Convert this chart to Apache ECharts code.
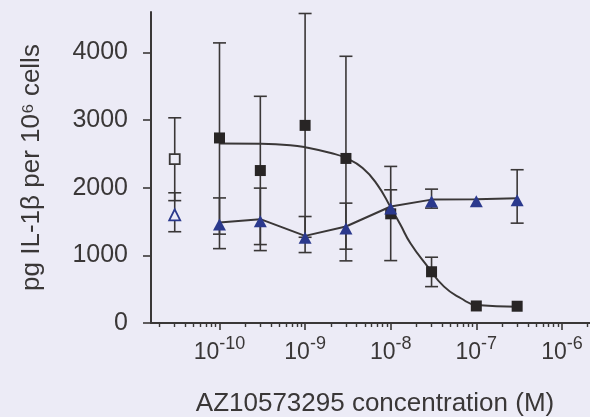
<!DOCTYPE html>
<html>
<head>
<meta charset="utf-8">
<script src="https://cdn.jsdelivr.net/npm/echarts@6/dist/echarts.min.js"></script>
<style>
html,body{margin:0;padding:0;background:#ecebf6;}
#chart{width:590px;height:417px;}
</style>
</head>
<body>
<div id="chart"></div>
<script>
// ---- data ----
const concentrations = [1e-10, 3e-10, 1e-9, 3e-9, 1e-8, 3e-8, 1e-7, 3e-7];
const squareMean   = [2737, 2255, 2923, 2434, 1615, 758, 252, 248];
const squareHigh   = [4143, 3353, 4578, 3945, 2316, 973, null, null];
const squareLow    = [1314, 1160, 1268, 919, 923, 538, null, null];
const triangleMean = [1486, 1536, 1289, 1427, 1723, 1825, 1830, 1847];
const triangleHigh = [1850, 1995, 1575, 1773, 1970, 1980, null, 2267];
const triangleLow  = [1100, 1071, 1042, 1092, null, 1699, null, 1477];
// untreated control shown left of the titration
const controlConc = 3e-11;
const controlSquare   = [2425, 1810, 3035];   // mean, low, high
const controlTriangle = [1630, 1350, 1926];   // mean, low, high
// fitted curve through the filled squares
const curveConc = [1e-10, 3e-10, 6.7e-10, 1e-9, 2e-9, 3e-9, 4.7e-9, 7e-9, 1e-8, 1.3e-8, 1.7e-8, 2.7e-8, 4.2e-8, 6.6e-8, 1e-7, 3e-7];
const curveFit  = [2655, 2650, 2630, 2600, 2514, 2440, 2292, 2044, 1710, 1452, 1180, 834, 538, 366, 267, 241];
// axis ticks
const xMajorExp = [-10, -9, -8, -7, -6];
const yTicks = [0, 1000, 2000, 3000, 4000];
const xTitle = 'AZ10573295 concentration (M)';
const yTitle = 'pg IL-1β per 10⁶ cells';

// ---- build options ----
const L = Math.log10;
const ink = '#3a3737';
const blue = '#2b398d';
const bg = '#ecebf6';
const font = '"Liberation Sans", Arial, sans-serif';

const xMin = -10.80, xMax = -5.672;
const minorVals = [];
for (let e = -12; e <= -6; e++) {
  for (let k = 2; k <= 9; k++) {
    const v = L(k) + e;
    if (v > xMin && v < xMax) minorVals.push(v);
  }
}

function errData(conc, mean, low, high) {
  return conc.map((c, i) => [L(c), mean[i], low[i] == null ? '-' : low[i], high[i] == null ? '-' : high[i]]);
}
const sqErr = errData(concentrations, squareMean, squareLow, squareHigh)
  .concat([[L(controlConc), controlSquare[0], controlSquare[1], controlSquare[2]]]);
const triErr = errData(concentrations, triangleMean, triangleLow, triangleHigh)
  .concat([[L(controlConc), controlTriangle[0], controlTriangle[1], controlTriangle[2]]]);

function renderErr(params, api) {
  const x = api.value(0), m = api.value(1), lo = api.value(2), hi = api.value(3);
  const children = [];
  const capW = 6.5;
  const style = { stroke: ink, lineWidth: 1.6 };
  const pm = api.coord([x, m]);
  let top = pm, bot = pm;
  if (!isNaN(hi) && hi !== '-') {
    top = api.coord([x, hi]);
    children.push({ type: 'line', shape: { x1: top[0] - capW, y1: top[1], x2: top[0] + capW, y2: top[1] }, style });
  }
  if (!isNaN(lo) && lo !== '-') {
    bot = api.coord([x, lo]);
    children.push({ type: 'line', shape: { x1: bot[0] - capW, y1: bot[1], x2: bot[0] + capW, y2: bot[1] }, style });
  }
  if (top !== bot) {
    children.push({ type: 'line', shape: { x1: pm[0], y1: top[1], x2: pm[0], y2: bot[1] }, style });
  }
  return { type: 'group', children };
}

const chart = echarts.init(document.getElementById('chart'), null, { renderer: 'canvas' });
chart.setOption({
  backgroundColor: bg,
  animation: false,
  textStyle: { fontFamily: font },
  grid: { left: 151, right: 0, top: 12, bottom: 94, containLabel: false, outerBoundsMode: 'none' },
  xAxis: [{
    type: 'value', min: xMin, max: xMax,
    axisLine: { show: true, onZero: false, lineStyle: { color: ink, width: 2 } },
    axisTick: { show: true, length: 7, customValues: xMajorExp, lineStyle: { color: ink, width: 1.6 } },
    axisLabel: {
      customValues: xMajorExp, margin: 12, color: ink,
      formatter: v => '{b|10}{s|' + v + '}',
      rich: {
        b: { fontSize: 23, fontFamily: font, color: ink },
        s: { fontSize: 18, fontFamily: font, color: ink, padding: [0, 0, 17, 0] }
      }
    },
    splitLine: { show: false },
    name: xTitle, nameLocation: 'middle', nameGap: 68,
    nameTextStyle: { fontSize: 26, color: ink, fontFamily: font, padding: [0, 0, 0, 9] }
  }, {
    type: 'value', min: xMin, max: xMax, position: 'bottom',
    axisLine: { show: false },
    axisTick: { show: true, length: 4, customValues: minorVals, lineStyle: { color: ink, width: 1.4 } },
    axisLabel: { show: false, customValues: minorVals },
    splitLine: { show: false }
  }],
  yAxis: {
    type: 'value', min: 0, max: 4600,
    axisLine: { show: true, lineStyle: { color: ink, width: 2 } },
    axisTick: { show: true, length: 8, customValues: yTicks, lineStyle: { color: ink, width: 1.6 } },
    axisLabel: { customValues: yTicks, margin: 23, fontSize: 25, color: ink, fontFamily: font,
      formatter: v => String(v) },
    splitLine: { show: false },
    name: yTitle, nameLocation: 'middle', nameGap: 106,
    nameTextStyle: { fontSize: 26, color: ink, fontFamily: font }
  },
  series: [
    { type: 'custom', name: 'sqErr', renderItem: renderErr, data: sqErr, z: 1,
      encode: { x: 0, y: [1, 2, 3] }, silent: true },
    { type: 'custom', name: 'triErr', renderItem: renderErr, data: triErr, z: 1,
      encode: { x: 0, y: [1, 2, 3] }, silent: true },
    { type: 'line', name: 'fit', data: curveConc.map((c, i) => [L(c), curveFit[i]]),
      showSymbol: false, smooth: 0.5,
      lineStyle: { color: ink, width: 2 }, z: 2, silent: true },
    { type: 'scatter', name: 'squares', data: concentrations.map((c, i) => [L(c), squareMean[i]]),
      symbol: 'rect', symbolSize: 11, itemStyle: { color: '#282525', opacity: 1 }, z: 3 },
    { type: 'line', name: 'triangles', data: concentrations.map((c, i) => [L(c), triangleMean[i]]),
      symbol: 'triangle', symbolSize: [13, 12], symbolOffset: [0, 2], showSymbol: true,
      lineStyle: { color: ink, width: 2 }, itemStyle: { color: blue, opacity: 1 }, z: 4 },
    { type: 'scatter', name: 'ctrlSquare', data: [[L(controlConc), controlSquare[0]]],
      symbol: 'rect', symbolSize: 10,
      itemStyle: { color: bg, borderColor: ink, borderWidth: 1.8, opacity: 1 }, z: 3 },
    { type: 'scatter', name: 'ctrlTriangle', data: [[L(controlConc), controlTriangle[0]]],
      symbol: 'triangle', symbolSize: [11, 11], symbolOffset: [0, 2],
      itemStyle: { color: bg, borderColor: blue, borderWidth: 1.8, opacity: 1 }, z: 4 }
  ]
});
</script>
</body>
</html>
